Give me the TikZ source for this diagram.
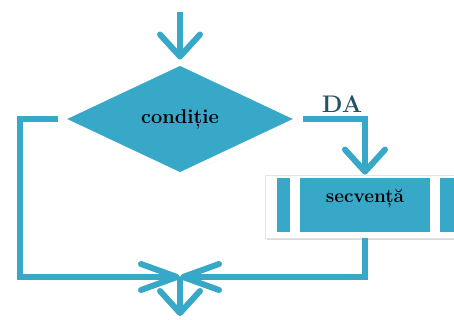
\documentclass[tikz,border=0pt]{standalone}
\usetikzlibrary{shapes.geometric,arrows.meta,shadows,positioning}
\definecolor{flowBlue}{HTML}{38A8C9}
\definecolor{labelNavy}{HTML}{25506C}

\begin{document}
\begin{tikzpicture}[x=1pt, y=-1pt,
        every node/.style={font=\fontsize{20}{22}\selectfont\bfseries},
        link/.style={draw=flowBlue, line width=6pt},
        vflow/.style={link, -{Straight Barb[length=22pt, width=40pt, round]}},
        hflow/.style={link, -{Straight Barb[length=36pt, width=26pt, round]}},
        softshadow/.style={drop shadow={opacity=0.3, shadow xshift=1.5pt, shadow yshift=-2pt}}]
        \useasboundingbox (0,0) rectangle (454,320);

        % Decision (top)
        \node[diamond, fill=flowBlue, draw=white, line width=5pt, softshadow,
              minimum width=240pt, minimum height=114pt, inner sep=0pt] (cond) at (180,119)
            {condiție};

        % Process frame with side bars (right)
        \node[fill=white, draw=gray!20, line width=0.8pt, softshadow,
              minimum width=200pt, minimum height=63pt, inner sep=0pt] (frame) at (365,206.5) {};
        \fill[flowBlue] (277,178) rectangle (290,232);
        \fill[flowBlue] (440,178) rectangle (470,232);
        \node[fill=flowBlue, font=\fontsize{19}{21}\selectfont\bfseries,
              minimum width=130pt, minimum height=54pt, inner sep=0pt,
              text height=13pt, text depth=18pt] (seq) at (365,205)
            {secvență};

        % Branch label
        \node[font=\fontsize{24}{26}\selectfont\bfseries, text=labelNavy] (yes) at (342,104) {DA};

        % Free ends and junction
        \coordinate (start) at (180,12);
        \coordinate (corner) at (20,277);
        \coordinate (join) at (180,277);
        \coordinate (finish) at (180,316);

        \draw[vflow] (start) -- (cond.north);
        \draw[vflow] (cond.east) -| (frame.north);
        \draw[hflow] (cond.west) -| (corner) -- (join);
        \draw[hflow] (frame.south) |- (join);
        \draw[vflow] (join) -- (finish);
    \end{tikzpicture}
\end{document}
